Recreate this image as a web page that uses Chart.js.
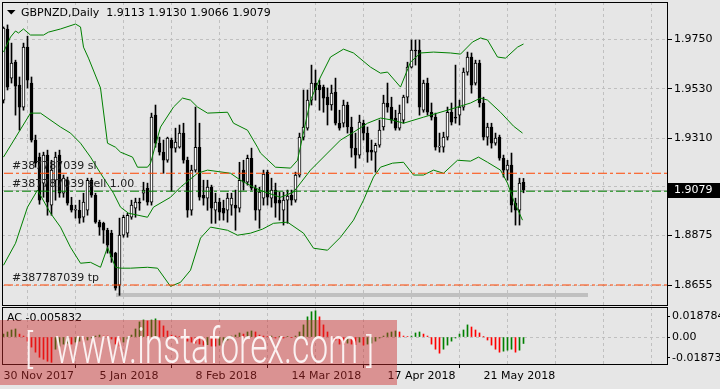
<!DOCTYPE html>
<html><head><meta charset="utf-8">
<script src="https://cdn.jsdelivr.net/npm/chart.js@4.4.1/dist/chart.umd.min.js"></script>
<style>
html,body{margin:0;padding:0;background:#e6e6e6;width:720px;height:389px;overflow:hidden;}
#wrap{position:relative;width:720px;height:389px;}
canvas{position:absolute;left:0;}
#main{top:0;} #ac{top:306px;}
</style></head><body>
<div id="wrap"><canvas id="main" width="720" height="306"></canvas><canvas id="ac" width="720" height="83"></canvas></div>
<script>
// ---------------- DATA ----------------
const symbolTitle = 'GBPNZD,Daily  1.9113 1.9130 1.9066 1.9079';
const opens = [1.9479,1.9796,1.9577,1.9648,1.9546,1.9448,1.9715,1.9555,1.9301,1.9225,
1.9109,1.9234,1.9011,1.9122,1.9234,1.9064,1.9122,1.9011,1.8988,1.8988,
1.8957,1.8988,1.9122,1.9055,1.8935,1.8930,1.8899,1.8886,1.8797,1.8654,
1.8877,1.8886,1.8957,1.8997,1.9024,1.9064,1.9087,1.9024,1.9412,1.9287,
1.9247,1.9211,1.9301,1.9265,1.9269,1.9332,1.9211,1.8988,1.9167,1.9269,
1.9055,1.9042,1.9091,1.8988,1.9024,1.8997,1.8988,1.9011,1.9011,1.8997,
1.9167,1.9113,1.9220,1.9087,1.8988,1.9042,1.9158,1.9042,1.9078,1.9033,
1.8988,1.9033,1.9055,1.9033,1.9145,1.9314,1.9354,1.9479,1.9555,1.9546,
1.9537,1.9492,1.9457,1.9515,1.9376,1.9376,1.9457,1.9359,1.9265,1.9234,
1.9376,1.9332,1.9256,1.9247,1.9278,1.9359,1.9466,1.9448,1.9399,1.9354,
1.9390,1.9492,1.9626,1.9702,1.9702,1.9434,1.9555,1.9425,1.9403,1.9269,
1.9269,1.9314,1.9425,1.9403,1.9412,1.9448,1.9604,1.9671,1.9555,1.9644,
1.9466,1.9314,1.9359,1.9287,1.9314,1.9220,1.9167,1.9189,1.9020,1.8988,1.9113];
const highs = [1.9805,1.9814,1.9733,1.9657,1.9582,1.9733,1.9764,1.9582,1.9323,1.9243,
1.9247,1.9256,1.9211,1.9247,1.9256,1.9145,1.9136,1.9046,1.9011,1.9033,
1.9064,1.9131,1.9131,1.9064,1.8944,1.8935,1.8908,1.8899,1.8801,1.8953,
1.8966,1.8975,1.9033,1.9042,1.9042,1.9113,1.9109,1.9421,1.9457,1.9314,
1.9301,1.9314,1.9310,1.9354,1.9368,1.9376,1.9225,1.9189,1.9448,1.9376,
1.9122,1.9122,1.9100,1.9064,1.9042,1.9033,1.9064,1.9064,1.9078,1.9202,
1.9211,1.9234,1.9265,1.9100,1.9091,1.9167,1.9167,1.9131,1.9109,1.9069,
1.9069,1.9078,1.9078,1.9158,1.9332,1.9524,1.9524,1.9635,1.9613,1.9568,
1.9546,1.9533,1.9546,1.9577,1.9434,1.9479,1.9470,1.9403,1.9332,1.9412,
1.9390,1.9359,1.9301,1.9287,1.9390,1.9501,1.9555,1.9492,1.9434,1.9457,
1.9501,1.9648,1.9747,1.9747,1.9747,1.9568,1.9577,1.9466,1.9421,1.9332,
1.9336,1.9448,1.9466,1.9635,1.9479,1.9622,1.9693,1.9689,1.9657,1.9657,
1.9492,1.9376,1.9376,1.9332,1.9323,1.9234,1.9211,1.9243,1.9042,1.9131,1.9130];
const lows = [1.9466,1.9524,1.9555,1.9412,1.9345,1.9434,1.9533,1.9292,1.9180,1.9015,
1.9046,1.8966,1.8966,1.9033,1.9046,1.9046,1.9011,1.8980,1.8953,1.8930,
1.8935,1.8966,1.9046,1.8930,1.8877,1.8841,1.8797,1.8756,1.8632,1.8609,
1.8868,1.8868,1.8948,1.8957,1.8988,1.9033,1.9011,1.9011,1.9269,1.9234,
1.9153,1.9202,1.9073,1.9247,1.9265,1.9198,1.8957,1.8966,1.9158,1.9033,
1.9011,1.8988,1.8930,1.8930,1.8944,1.8944,1.8935,1.8966,1.8899,1.8980,
1.9078,1.9100,1.9078,1.8944,1.8908,1.9011,1.9011,1.9002,1.8957,1.8944,
1.8922,1.8930,1.9011,1.9024,1.9136,1.9301,1.9345,1.9457,1.9479,1.9434,
1.9425,1.9368,1.9434,1.9368,1.9345,1.9359,1.9332,1.9225,1.9176,1.9220,
1.9301,1.9202,1.9211,1.9158,1.9269,1.9345,1.9425,1.9376,1.9345,1.9345,
1.9376,1.9466,1.9622,1.9635,1.9412,1.9425,1.9412,1.9390,1.9256,1.9247,
1.9247,1.9301,1.9368,1.9376,1.9368,1.9434,1.9590,1.9510,1.9546,1.9448,
1.9301,1.9278,1.9265,1.9278,1.9211,1.9136,1.9122,1.8980,1.8922,1.8922,1.9066];
const closes = [1.9800,1.9537,1.9644,1.9541,1.9448,1.9715,1.9568,1.9301,1.9198,1.9033,
1.9234,1.9024,1.9167,1.9225,1.9064,1.9131,1.9020,1.8988,1.8990,1.8953,
1.9024,1.9122,1.9055,1.8935,1.8913,1.8899,1.8832,1.8779,1.8641,1.8877,
1.8957,1.8966,1.9011,1.9024,1.9020,1.9078,1.9024,1.9403,1.9287,1.9247,
1.9211,1.9310,1.9265,1.9292,1.9332,1.9211,1.8988,1.9167,1.9269,1.9046,
1.9042,1.9091,1.8997,1.9024,1.8980,1.8975,1.9042,1.9042,1.8997,1.9122,
1.9113,1.9220,1.9087,1.8988,1.9069,1.9149,1.9046,1.9078,1.9020,1.9020,
1.9033,1.9051,1.9033,1.9145,1.9314,1.9359,1.9479,1.9555,1.9524,1.9524,
1.9488,1.9457,1.9510,1.9376,1.9354,1.9457,1.9359,1.9265,1.9234,1.9381,
1.9332,1.9247,1.9247,1.9278,1.9345,1.9466,1.9448,1.9390,1.9354,1.9421,
1.9492,1.9626,1.9702,1.9698,1.9448,1.9555,1.9425,1.9403,1.9269,1.9274,
1.9314,1.9425,1.9381,1.9399,1.9448,1.9604,1.9671,1.9546,1.9644,1.9466,
1.9314,1.9359,1.9287,1.9310,1.9220,1.9167,1.9189,1.9011,1.8988,1.9109,1.9079];

// Bollinger bands, read at bar positions
const bbUpperIdx = [0,1.75,3,3.75,5,6.75,10,11.25,14.25,18,19.25,20,21.25,24.25,26,28,29.25,32.25,33.5,36,36.75,39.25,42.5,44.75,46.75,48.5,51,56,57.5,61,63.5,64.25,68,71.75,73.5,76.75,79.25,81.75,85,87.5,91.75,94.25,96,99.25,101.75,104.25,107.5,111.75,114.25,117.25,119.25,121,123.5,125.5,128.5,130];
const bbUpper = [1.9693,1.9760,1.9787,1.9778,1.9796,1.9769,1.9769,1.9782,1.9796,1.9818,1.9805,1.9715,1.9666,1.9533,1.9287,1.9269,1.9247,1.9225,1.9180,1.9180,1.9198,1.9359,1.9448,1.9488,1.9479,1.9448,1.9421,1.9425,1.9376,1.9345,1.9269,1.9243,1.9180,1.9176,1.9211,1.9479,1.9582,1.9671,1.9706,1.9689,1.9626,1.9599,1.9604,1.9537,1.9648,1.9689,1.9693,1.9689,1.9684,1.9738,1.9756,1.9747,1.9671,1.9666,1.9715,1.9729];
const bbMiddleIdx = [0,6.75,9.25,14.25,16.75,19.25,21.75,24.25,27.5,29.25,31.25,36,37.5,41.75,44.25,48.5,51,56.75,59.25,62.5,64.75,69.25,72.5,76.75,81,84.25,87.5,91,94.25,97.25,100,105,111,116.75,119.25,121,124.25,127.5,129.75];
const bbMiddle = [1.9225,1.9421,1.9421,1.9359,1.9332,1.9287,1.9225,1.9153,1.9064,1.9002,1.8975,1.8957,1.9002,1.9046,1.9091,1.9153,1.9167,1.9153,1.9122,1.9091,1.9073,1.9046,1.9069,1.9167,1.9243,1.9301,1.9336,1.9376,1.9399,1.9390,1.9376,1.9403,1.9434,1.9466,1.9488,1.9479,1.9425,1.9363,1.9332];
const bbLowerIdx = [0,3,6,8.5,11.75,14.25,16.75,19.25,21.75,24.25,26,28,29.25,31.75,36,38.5,41.75,44.25,46.75,49.25,51.75,56,58.5,61.75,64.75,67.5,71,75,77.5,81,84.25,87.5,90,92.5,94.25,97.25,100,102.5,105,107.5,110,113.5,116.75,118.75,121,124.25,126,127.5,129.75];
const bbLower = [1.8743,1.8841,1.9002,1.9078,1.8975,1.8913,1.8823,1.8752,1.8756,1.8734,1.8823,1.8734,1.8730,1.8730,1.8734,1.8730,1.8649,1.8667,1.8721,1.8864,1.8913,1.8899,1.8877,1.8886,1.8904,1.8930,1.8935,1.8886,1.8819,1.8810,1.8868,1.8944,1.9033,1.9136,1.9180,1.9198,1.9202,1.9145,1.9145,1.9167,1.9153,1.9211,1.9207,1.9225,1.9202,1.9167,1.9109,1.9033,1.8944];

// Accelerator Oscillator
const acValues = [
0.0027,0.0046,0.0064,0.0073,0.0027,0.0009,-0.0037,-0.0091,-0.0137,-0.0183,
-0.0201,-0.0219,-0.0229,-0.0110,-0.0082,-0.0064,-0.0055,-0.0064,-0.0046,-0.0037,
-0.0046,-0.0027,-0.0009,0.0009,0.0018,0.0009,0.0009,-0.0018,-0.0064,-0.0082,
-0.0046,-0.0018,0.0018,0.0073,0.0137,0.0155,0.0146,0.0155,0.0165,0.0146,
0.0101,0.0055,0.0018,0.0009,0.0005,-0.0009,-0.0037,-0.0046,-0.0055,-0.0064,
-0.0073,-0.0069,-0.0082,-0.0082,-0.0073,-0.0055,-0.0027,0.0009,0.0018,0.0037,
0.0027,0.0046,0.0055,0.0046,0.0018,0.0009,0.0005,0.0009,-0.0009,0.0005,
-0.0009,0.0005,-0.0005,0.0009,0.0046,0.0110,0.0183,0.0229,0.0238,0.0183,
0.0110,0.0046,0.0002,-0.0027,-0.0064,-0.0069,-0.0055,-0.0064,-0.0069,-0.0046,
-0.0073,-0.0064,-0.0055,-0.0037,-0.0009,0.0009,0.0037,0.0046,0.0055,0.0046,
0.0009,0.0005,0.0009,0.0037,0.0046,0.0027,0.0009,-0.0064,-0.0110,-0.0146,
-0.0110,-0.0073,-0.0037,-0.0009,0.0027,0.0064,0.0110,0.0091,0.0064,0.0037,
0.0002,-0.0027,-0.0073,-0.0110,-0.0137,-0.0128,-0.0119,-0.0110,-0.0137,-0.0119,
-0.005832];
const acLabel = 'AC -0.005832';

// Axis ticks
const priceTicks = [1.9750, 1.9530, 1.9310, 1.9092, 1.8875, 1.8655];
const priceTickLabels = ['1.9750', '1.9530', '1.9310', '', '1.8875', '1.8655'];
const acTicks = [0.018784, 0, -0.01873];
const acTickLabels = ['0.018784', '0.00', '-0.01873'];
const gridIdx = [0,12,24,36,48,60,72,84,96,108,120,132,144,156];
const dateTickIdx = [0,24,48,72,96,120];
const dateLabels = ['30 Nov 2017','5 Jan 2018','8 Feb 2018','14 Mar 2018','17 Apr 2018','21 May 2018'];

// Trade levels
const bidPrice = 1.9079;
const orderLevels = [1.9153, 1.9073, 1.8655];
const orderLabels = ['#387787039 sl', '#387787039 sell 1.00', '#387787039 tp'];
const orderColors = ['rgb(255,69,0)', 'rgb(0,128,0)', 'rgb(255,69,0)'];
const tradeBarIdx = [28, 146];
const tradeBarPrice = [1.8618, 1.8600];
const watermark = 'www.instaforex.com';

// ---------------- STYLE ----------------
const FONT = 'DejaVu Sans';
const BG = '#e6e6e6';
const GRID = '#c0c0c0';
const xMin = -0.375, xMax = 165.875;
const yMin = 1.85659, yMax = 1.99162;
const acMin = -0.0244, acMax = 0.0272;
Chart.defaults.font.family = FONT;
Chart.defaults.font.size = 11;

const zeroPad = s => { s.paddingTop = 0; s.paddingBottom = 0; s.paddingLeft = 0; s.paddingRight = 0; };

const mainDecor = {
  id: 'mainDecor',
  beforeDraw(chart) {
    const ctx = chart.ctx;
    ctx.save(); ctx.fillStyle = BG; ctx.fillRect(0, 0, chart.width, chart.height); ctx.restore();
  },
  beforeDatasetsDraw(chart) {
    const {ctx, chartArea: a, scales: {x, y}} = chart;
    const x1 = x.getPixelForValue(tradeBarIdx[0]), x2 = x.getPixelForValue(tradeBarIdx[1]);
    const y1 = y.getPixelForValue(tradeBarPrice[0]), y2 = y.getPixelForValue(tradeBarPrice[1]);
    ctx.save(); ctx.fillStyle = '#c0c0c0';
    ctx.fillRect(Math.round(x1), Math.round(y1), Math.round(x2 - x1), Math.round(y2 - y1));
    const yb = Math.round(y.getPixelForValue(bidPrice)) + 0.5;
    ctx.strokeStyle = '#c0c0c0'; ctx.lineWidth = 1;
    ctx.beginPath(); ctx.moveTo(a.left, yb); ctx.lineTo(a.right, yb); ctx.stroke();
    ctx.restore();
  },
  afterDatasetsDraw(chart) {
    const {ctx, scales: {y}} = chart;
    ctx.save();
    ctx.fillStyle = '#202020'; ctx.font = '11px ' + FONT; ctx.textBaseline = 'middle'; ctx.textAlign = 'left';
    orderLevels.forEach((lv, k) => {
      const yy = Math.round(y.getPixelForValue(lv)) + 0.5;
      ctx.fillText(orderLabels[k], 12, yy - 7);
    });
    ctx.restore();
  },
  afterDraw(chart) {
    const {ctx, chartArea: a, scales: {y}} = chart;
    ctx.save();
    ctx.strokeStyle = '#000'; ctx.lineWidth = 1; ctx.setLineDash([]);
    ctx.strokeRect(a.left + 0.5, a.top + 0.5, a.right - a.left, a.bottom - a.top);
    ctx.fillStyle = '#000';
    ctx.beginPath(); ctx.moveTo(7, 10); ctx.lineTo(15.5, 10); ctx.lineTo(11.25, 14.5); ctx.closePath(); ctx.fill();
    ctx.font = '11px ' + FONT; ctx.textBaseline = 'middle'; ctx.textAlign = 'left';
    ctx.fillText(symbolTitle, 21, 13);
    const yb = y.getPixelForValue(bidPrice);
    ctx.fillStyle = '#000';
    ctx.fillRect(a.right + 1, Math.round(yb) - 7, chart.width - a.right - 1, 15);
    ctx.fillStyle = '#fff';
    ctx.fillText(bidPrice.toFixed(4), a.right + 7, Math.round(yb) + 0.5);
    ctx.restore();
  }
};

const orderDatasets = orderLevels.map((lv, k) => ({
  type: 'line', data: [{x: xMin + 0.5, y: lv}, {x: xMax, y: lv}],
  borderColor: orderColors[k], borderWidth: 1, borderDash: [9, 3, 3, 3], pointRadius: 0, tension: 0, order: -1
}));

new Chart(document.getElementById('main'), {
  type: 'bar',
  data: {
    datasets: [
      ...orderDatasets,
      {type: 'line', data: bbUpperIdx.map((x, k) => ({x, y: bbUpper[k]})), borderColor: '#008000', borderWidth: 1, pointRadius: 0, tension: 0, order: 0},
      {type: 'line', data: bbMiddleIdx.map((x, k) => ({x, y: bbMiddle[k]})), borderColor: '#008000', borderWidth: 1, pointRadius: 0, tension: 0, order: 0},
      {type: 'line', data: bbLowerIdx.map((x, k) => ({x, y: bbLower[k]})), borderColor: '#008000', borderWidth: 1, pointRadius: 0, tension: 0, order: 0},
      {type: 'bar', data: opens.map((o, i) => ({x: i, y: [Math.min(o, closes[i]), Math.max(o, closes[i])]})),
        backgroundColor: opens.map((o, i) => closes[i] >= o ? '#ffffff' : '#000000'),
        borderColor: '#000', borderWidth: 1, borderSkipped: false, barThickness: 3, grouped: false, minBarLength: 1, order: 1},
      {type: 'bar', data: lows.map((l, i) => ({x: i, y: [l, highs[i]]})), backgroundColor: '#000', borderWidth: 0, barThickness: 1, grouped: false, order: 2}
    ]
  },
  options: {
    responsive: false, animation: false, devicePixelRatio: 1,
    layout: {padding: {left: 2, top: 2, right: 0, bottom: 1}},
    plugins: {legend: {display: false}, tooltip: {enabled: false}},
    scales: {
      x: {type: 'linear', min: xMin, max: xMax, offset: false,
        afterBuildTicks: s => { s.ticks = gridIdx.map(v => ({value: v})); },
        afterFit: s => { s.height = 0; zeroPad(s); },
        ticks: {display: false},
        grid: {color: GRID, drawTicks: false, lineWidth: 1},
        border: {display: false, dash: [3, 3]}},
      y: {type: 'linear', position: 'right', min: yMin, max: yMax,
        afterBuildTicks: s => { s.ticks = priceTicks.map(v => ({value: v})); },
        afterFit: s => { s.width = 53; zeroPad(s); },
        ticks: {color: '#000', padding: 2, font: {family: FONT, size: 11}, callback: (v, i) => priceTickLabels[i]},
        grid: {color: GRID, tickColor: '#000', tickLength: 5, tickBorderDash: [], lineWidth: 1},
        border: {display: false, dash: [3, 3]}}
    }
  },
  plugins: [mainDecor]
});

const acDecor = {
  id: 'acDecor',
  beforeDraw(chart) {
    const ctx = chart.ctx;
    ctx.save(); ctx.fillStyle = BG; ctx.fillRect(0, 0, chart.width, chart.height); ctx.restore();
  },
  afterDraw(chart) {
    const {ctx, chartArea: a} = chart;
    const top = 306;
    ctx.save();
    ctx.strokeStyle = '#000'; ctx.lineWidth = 1;
    ctx.strokeRect(a.left + 0.5, a.top + 0.5, a.right - a.left, a.bottom - a.top);
    ctx.fillStyle = '#000'; ctx.font = '11px ' + FONT; ctx.textBaseline = 'middle'; ctx.textAlign = 'left';
    ctx.fillText(acLabel, 7, 318.5 - top);
    ctx.fillStyle = 'rgba(205,45,45,0.45)';
    ctx.fillRect(0, 320 - top, 397, 65);
    ctx.fillStyle = 'rgba(255,255,255,0.88)';
    ctx.font = '300 50px Roboto';
    ctx.textBaseline = 'alphabetic';
    const w = ctx.measureText(watermark).width;
    const sx = 303 / w;
    ctx.save(); ctx.translate(55, 363 - top); ctx.scale(sx, 1); ctx.fillText(watermark, 0, 0); ctx.restore();
    ctx.save(); ctx.translate(25, 363 - top); ctx.scale(sx, 0.8); ctx.fillText('[', 0, 0); ctx.restore();
    ctx.save(); ctx.translate(366, 363 - top); ctx.scale(sx, 0.7); ctx.fillText(']', 0, 0); ctx.restore();
    ctx.restore();
  }
};

new Chart(document.getElementById('ac'), {
  type: 'bar',
  data: {
    datasets: [{
      data: acValues.map((v, i) => ({x: i, y: v})),
      backgroundColor: acValues.map((v, i) => (i === 0 || v > acValues[i - 1]) ? '#008000' : '#ff0000'),
      borderWidth: 0, barThickness: 1, grouped: false
    }]
  },
  options: {
    responsive: false, animation: false, devicePixelRatio: 1,
    layout: {padding: {left: 2, top: 1, right: 0, bottom: 0}},
    plugins: {legend: {display: false}, tooltip: {enabled: false}},
    scales: {
      x: {type: 'linear', min: xMin, max: xMax, offset: false,
        afterBuildTicks: s => { s.ticks = gridIdx.map(v => ({value: v})); },
        afterFit: s => { s.height = 25; zeroPad(s); },
        ticks: {display: true, align: 'start', color: '#000', padding: 2, autoSkip: false, maxRotation: 0, minRotation: 0,
          font: {family: FONT, size: 11},
          callback: v => { const k = dateTickIdx.indexOf(v); return k >= 0 ? dateLabels[k] : ''; }},
        grid: {color: GRID, lineWidth: 1, tickLength: 4, tickBorderDash: [],
          tickColor: ctx => (ctx.tick && dateTickIdx.indexOf(ctx.tick.value) >= 0) ? '#000' : 'rgba(0,0,0,0)'},
        border: {display: false, dash: [3, 3]}},
      y: {type: 'linear', position: 'right', min: acMin, max: acMax,
        afterBuildTicks: s => { s.ticks = acTicks.map(v => ({value: v})); },
        afterFit: s => { s.width = 53; zeroPad(s); },
        ticks: {color: '#000', padding: 2, font: {family: FONT, size: 11}, callback: (v, i) => acTickLabels[i]},
        grid: {color: ctx => (ctx.tick && ctx.tick.value === 0) ? GRID : 'rgba(0,0,0,0)', tickColor: '#000', tickLength: 3, tickBorderDash: [], lineWidth: 1},
        border: {display: false, dash: [3, 3]}}
    }
  },
  plugins: [acDecor]
});
</script>
</body></html>
